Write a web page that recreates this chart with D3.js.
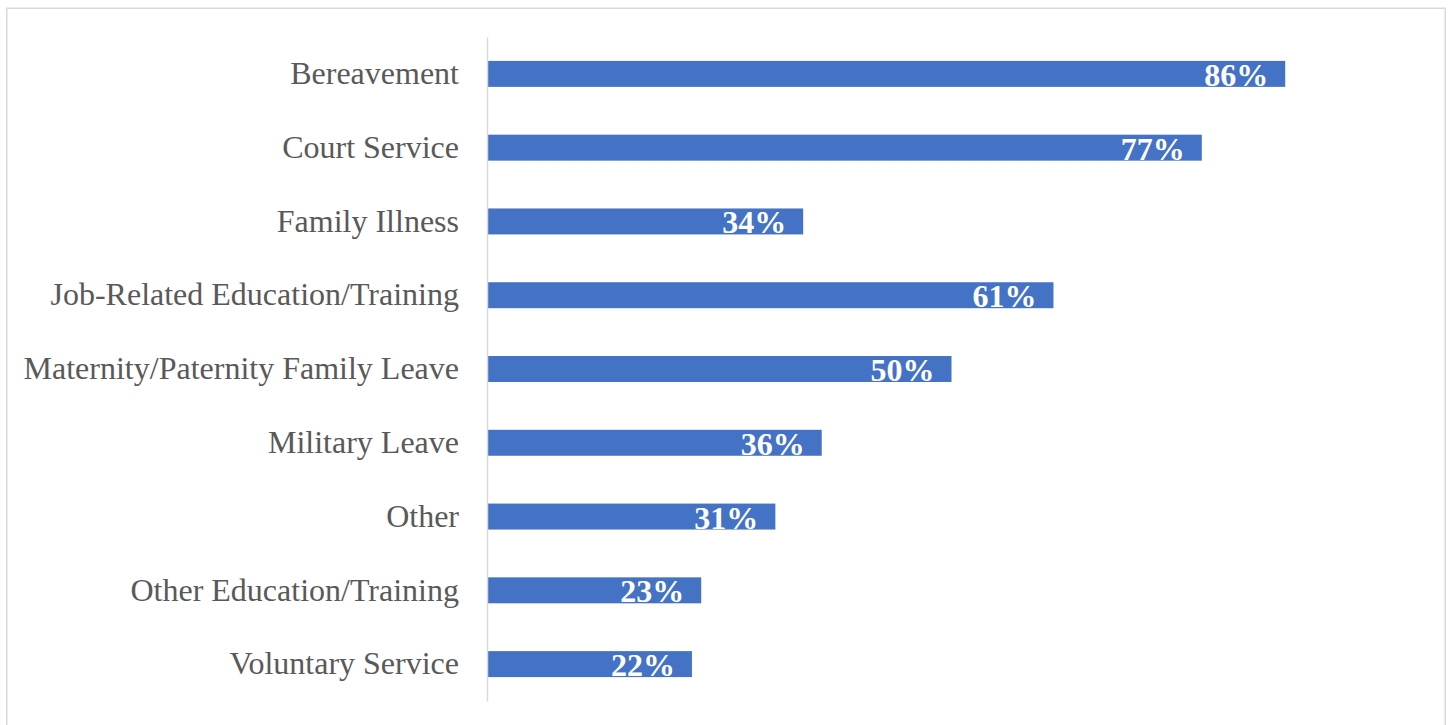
<!DOCTYPE html>
<html>
<head>
<meta charset="utf-8">
<script src="https://cdn.jsdelivr.net/npm/d3@7"></script>
<style>
  html, body { margin: 0; padding: 0; background: #ffffff; }
  svg { display: block; }
</style>
</head>
<body>
<svg id="chart" width="1450" height="725"></svg>
<script>
// Leave types, in display order from top to bottom
const categories = [
  "Bereavement",
  "Court Service",
  "Family Illness",
  "Job-Related Education/Training",
  "Maternity/Paternity Family Leave",
  "Military Leave",
  "Other",
  "Other Education/Training",
  "Voluntary Service"
];

// Share offering each leave type (fraction of 1)
const shares = [0.86, 0.77, 0.34, 0.61, 0.50, 0.36, 0.31, 0.23, 0.22];

const rows = categories.map((c, i) => ({ category: c, value: shares[i] }));

const svg = d3.select("#chart");

// Outer frame of the chart area
svg.append("rect")
  .attr("x", 6.75).attr("y", 8.25)
  .attr("width", 1438.5).attr("height", 730)
  .attr("fill", "#ffffff")
  .attr("stroke", "#d9d9d9")
  .attr("stroke-width", 1.5);

const plotLeft = 488;
const plotTop = 37, plotBottom = 701;

const x = d3.scaleLinear()
  .domain([0, 1])
  .range([plotLeft, plotLeft + 927]);

const y = d3.scaleBand()
  .domain(categories)
  .range([plotTop, plotBottom])
  .paddingInner(0.648)
  .paddingOuter(0.324);

// Bars
svg.append("g")
  .selectAll("rect")
  .data(rows)
  .join("rect")
  .attr("x", x(0))
  .attr("y", d => y(d.category))
  .attr("width", d => x(d.value) - x(0))
  .attr("height", y.bandwidth())
  .attr("fill", "#4472c4");

// Category axis with labels
const yAxis = d3.axisLeft(y).tickSize(0).tickPadding(28);
const gy = svg.append("g")
  .attr("transform", `translate(${plotLeft - 1},0)`)
  .call(yAxis);
gy.select(".domain")
  .attr("stroke", "#d9d9d9")
  .attr("stroke-width", 1.5);
gy.selectAll(".tick text")
  .attr("fill", "#595959")
  .style("font-family", "'Liberation Serif', 'Times New Roman', serif")
  .style("font-size", "32px")
  .attr("dy", "0.32em");

// Value labels inside the bar ends
const fmt = d3.format(".0%");
svg.append("g")
  .selectAll("text")
  .data(rows)
  .join("text")
  .attr("x", d => x(d.value) - 17)
  .attr("y", d => y(d.category) + y.bandwidth() - 1)
  .attr("text-anchor", "end")
  .attr("fill", "#ffffff")
  .style("font-family", "'Liberation Serif', 'Times New Roman', serif")
  .style("font-weight", "bold")
  .style("font-size", "32px")
  .text(d => fmt(d.value));
</script>
</body>
</html>
